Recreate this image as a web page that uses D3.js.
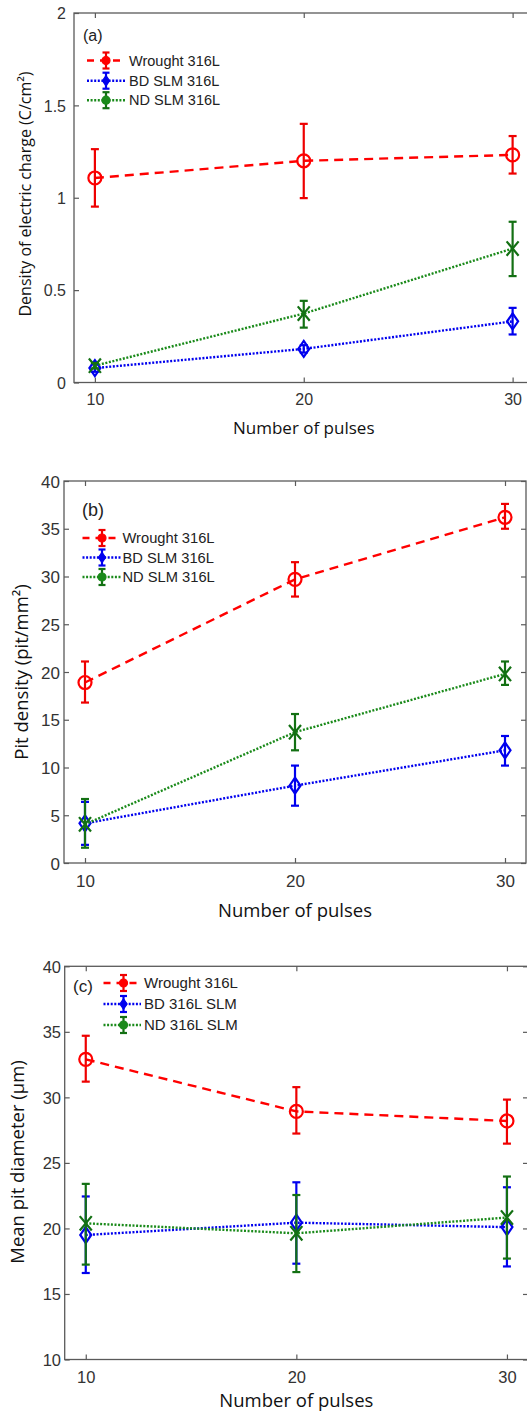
<!DOCTYPE html>
<html><head><meta charset="utf-8">
<script src="https://cdn.jsdelivr.net/npm/d3@7"></script>
<style>body{margin:0;background:#fff}</style>
</head><body><svg id="chart" width="527" height="1411" xmlns="http://www.w3.org/2000/svg"></svg>
<script>
// ---------- data ----------
const pulses = [10, 20, 30];
const xTickValues = [10, 20, 30];

// (a) density of electric charge (C/cm²)
const chargeWrought     = [1.107, 1.200, 1.232];
const chargeWroughtLow  = [0.952, 0.998, 1.131];
const chargeWroughtHigh = [1.263, 1.400, 1.334];
const chargeBD          = [0.078, 0.182, 0.331];
const chargeBDLow       = [0.058, 0.162, 0.260];
const chargeBDHigh      = [0.098, 0.202, 0.404];
const chargeND          = [0.091, 0.373, 0.725];
const chargeNDLow       = [0.076, 0.297, 0.576];
const chargeNDHigh      = [0.106, 0.442, 0.870];
const chargeTicks = [0, 0.5, 1, 1.5, 2];

// (b) pit density (pit/mm²)
const pitWrought     = [18.9, 29.7, 36.2];
const pitWroughtLow  = [16.8, 27.9, 35.0];
const pitWroughtHigh = [21.1, 31.5, 37.6];
const pitBD          = [4.15, 8.1, 11.8];
const pitBDLow       = [1.9, 6.0, 10.2];
const pitBDHigh      = [6.4, 10.2, 13.3];
const pitND          = [4.05, 13.7, 19.8];
const pitNDLow       = [1.6, 11.8, 18.65];
const pitNDHigh      = [6.7, 15.6, 21.1];
const pitTicks = [0, 5, 10, 15, 20, 25, 30, 35, 40];

// (c) mean pit diameter (µm)
const diamWrought     = [32.9, 28.93, 28.2];
const diamWroughtLow  = [31.2, 27.24, 26.47];
const diamWroughtHigh = [34.7, 30.78, 29.83];
const diamBD          = [19.5, 20.44, 20.1];
const diamBDLow       = [16.6, 17.31, 17.1];
const diamBDHigh      = [22.44, 23.52, 23.14];
const diamND          = [20.39, 19.63, 20.83];
const diamNDLow       = [17.24, 16.67, 17.7];
const diamNDHigh      = [23.4, 22.55, 23.96];
const diamTicks = [10, 15, 20, 25, 30, 35, 40];

const legendAB = ["Wrought 316L", "BD SLM 316L", "ND SLM 316L"];
const legendC  = ["Wrought 316L", "BD 316L SLM", "ND 316L SLM"];

// ---------- styles ----------
const styles = [
  {color: "#ff0000", dash: "9,6", width: 2.4, marker: "circle"},
  {color: "#0000ee", dash: "2,1.6", width: 2.4, marker: "diamond"},
  {color: "#1a8a1a", dash: "2,1.6", width: 2.4, marker: "x"}
];
const errColors = ["#ee0000", "#0000ee", "#137013"];

const panels = [
  {tag: "(a)", left: 74, right: 533.5, top: 13, bottom: 382.5, yDomain: [0, 2], yTicks: chargeTicks,
   series: [[chargeWrought, chargeWroughtLow, chargeWroughtHigh], [chargeBD, chargeBDLow, chargeBDHigh], [chargeND, chargeNDLow, chargeNDHigh]],
   legend: legendAB, ytitle: "Density of electric charge (C/cm²)", ytitleX: 31, ytitleY: 194, ytitleSize: 16,
   tickSize: 16, labelEnd: 66, xlabelY: 405, xtitleY: 434, xtitleSize: 17,
   tagX: 83, tagY: 41, tagSize: 16, legX0: 87, legX1: 126, legMX: 106, legTX: 129, legY: [60.5, 80.7, 100.2], legSize: 14.5},
  {tag: "(b)", left: 64, right: 526, top: 481, bottom: 863, yDomain: [0, 40], yTicks: pitTicks,
   series: [[pitWrought, pitWroughtLow, pitWroughtHigh], [pitBD, pitBDLow, pitBDHigh], [pitND, pitNDLow, pitNDHigh]],
   legend: legendAB, ytitle: "Pit density (pit/mm²)", ytitleX: 28, ytitleY: 672, ytitleSize: 18.5,
   tickSize: 17, labelEnd: 60, xlabelY: 886.5, xtitleY: 916.5, xtitleSize: 18.5,
   tagX: 82, tagY: 516, tagSize: 18, legX0: 82.5, legX1: 121, legMX: 102, legTX: 122.5, legY: [538, 557.5, 577], legSize: 14.7},
  {tag: "(c)", left: 64.7, right: 528, top: 966.3, bottom: 1359.5, yDomain: [10, 40], yTicks: diamTicks,
   series: [[diamWrought, diamWroughtLow, diamWroughtHigh], [diamBD, diamBDLow, diamBDHigh], [diamND, diamNDLow, diamNDHigh]],
   legend: legendC, ytitle: "Mean pit diameter (µm)", ytitleX: 24, ytitleY: 1162, ytitleSize: 18.5,
   tickSize: 16.5, labelEnd: 61, xlabelY: 1383, xtitleY: 1407, xtitleSize: 18.5,
   tagX: 73, tagY: 991.5, tagSize: 17, legX0: 103.5, legX1: 141, legMX: 123.5, legTX: 144, legY: [983, 1004, 1025], legSize: 15}
];

const svg = d3.select("#chart");
const tickFont = "'Liberation Sans', Arial, sans-serif";
const titleFont = "'Open Sans', 'Noto Sans', sans-serif";

function markerPath(type, s) {
  if (type === "diamond") return `M0,${-s*1.45} L${s},0 L0,${s*1.45} L${-s},0 Z`;
  if (type === "x") return `M${-s},${-s*1.2} L${s},${s*1.2} M${-s},${s*1.2} L${s},${-s*1.2}`;
  return null;
}

panels.forEach(p => {
  const x = d3.scaleLinear().domain([9, 31]).range([p.left, p.right]);
  const y = d3.scaleLinear().domain(p.yDomain).range([p.bottom, p.top]);
  const g = svg.append("g");

  // box
  g.append("rect").attr("x", p.left).attr("y", p.top)
    .attr("width", p.right - p.left).attr("height", p.bottom - p.top)
    .attr("fill", "none").attr("stroke", "#5a5a5a").attr("stroke-width", 1.3);

  const styleAxis = sel => {
    sel.select(".domain").remove();
    sel.selectAll(".tick line").attr("stroke", "#5a5a5a").attr("stroke-width", 1.2);
    sel.selectAll("text").attr("fill", "#333").attr("font-family", tickFont).attr("font-size", p.tickSize);
  };
  // bottom axis (ticks inward)
  g.append("g").attr("transform", `translate(0,${p.bottom})`)
    .call(d3.axisBottom(x).tickValues(xTickValues).tickSizeInner(-5).tickSizeOuter(0).tickPadding(0).tickFormat(d3.format("d")))
    .call(styleAxis)
    .call(s => s.selectAll("text").attr("y", p.xlabelY - p.bottom).attr("dy", 0));
  g.append("g").attr("transform", `translate(0,${p.top})`)
    .call(d3.axisTop(x).tickValues(xTickValues).tickSizeInner(-5).tickSizeOuter(0).tickFormat(""))
    .call(styleAxis);
  g.append("g").attr("transform", `translate(${p.left},0)`)
    .call(d3.axisLeft(y).tickValues(p.yTicks).tickSizeInner(-5).tickSizeOuter(0).tickFormat(d => String(d)))
    .call(styleAxis)
    .call(s => s.selectAll("text").attr("x", p.labelEnd - p.left).attr("dy", "0.36em"));
  g.append("g").attr("transform", `translate(${p.right},0)`)
    .call(d3.axisRight(y).tickValues(p.yTicks).tickSizeInner(-5).tickSizeOuter(0).tickFormat(""))
    .call(styleAxis);

  // axis titles
  g.append("text").attr("x", (x(10) + x(30)) / 2).attr("y", p.xtitleY)
    .attr("text-anchor", "middle").attr("font-family", titleFont).attr("font-size", p.xtitleSize)
    .attr("fill", "#111").text("Number of pulses");
  g.append("text").attr("transform", `translate(${p.ytitleX},${p.ytitleY}) rotate(-90)`)
    .attr("text-anchor", "middle").attr("font-family", titleFont).attr("font-size", p.ytitleSize)
    .attr("fill", "#111").text(p.ytitle);

  // series
  p.series.forEach((ser, si) => {
    const st = styles[si];
    const [vals, lo, hi] = ser;
    const pts = pulses.map((d, i) => ({x: d, v: vals[i], lo: lo[i], hi: hi[i]}));
    g.append("path").datum(pts)
      .attr("d", d3.line().x(d => x(d.x)).y(d => y(d.v)))
      .attr("fill", "none").attr("stroke", st.color).attr("stroke-width", st.width)
      .attr("stroke-dasharray", st.dash);
    const eb = g.append("g").attr("stroke", errColors[si]).attr("stroke-width", 2.2).attr("fill", "none");
    pts.forEach(d => {
      const cx = x(d.x);
      eb.append("line").attr("x1", cx).attr("x2", cx).attr("y1", y(d.lo)).attr("y2", y(d.hi));
      eb.append("line").attr("x1", cx - 4).attr("x2", cx + 4).attr("y1", y(d.lo)).attr("y2", y(d.lo));
      eb.append("line").attr("x1", cx - 4).attr("x2", cx + 4).attr("y1", y(d.hi)).attr("y2", y(d.hi));
      if (st.marker === "circle") {
        eb.append("circle").attr("cx", cx).attr("cy", y(d.v)).attr("r", 6.5).attr("stroke", st.color);
      } else {
        eb.append("path").attr("transform", `translate(${cx},${y(d.v)})`)
          .attr("d", markerPath(st.marker, st.marker === "diamond" ? 5.5 : 6)).attr("stroke", errColors[si]);
      }
    });
  });

  // tag & legend
  g.append("text").attr("x", p.tagX).attr("y", p.tagY).attr("font-family", tickFont)
    .attr("font-size", p.tagSize).attr("fill", "#222").text(p.tag);
  p.legend.forEach((lab, i) => {
    const st = styles[i];
    const ly = p.legY[i];
    g.append("line").attr("x1", p.legX0).attr("x2", p.legX1).attr("y1", ly).attr("y2", ly)
      .attr("stroke", st.color).attr("stroke-width", st.width).attr("stroke-dasharray", i === 0 ? "7,6" : "2,1.6");
    const lg = g.append("g").attr("stroke", errColors[i]).attr("stroke-width", 2.2);
    lg.append("line").attr("x1", p.legMX).attr("x2", p.legMX).attr("y1", ly - 8).attr("y2", ly + 8);
    lg.append("line").attr("x1", p.legMX - 3.5).attr("x2", p.legMX + 3.5).attr("y1", ly - 8).attr("y2", ly - 8);
    lg.append("line").attr("x1", p.legMX - 3.5).attr("x2", p.legMX + 3.5).attr("y1", ly + 8).attr("y2", ly + 8);
    if (i === 1) {
      lg.append("path").attr("transform", `translate(${p.legMX},${ly})`).attr("d", markerPath("diamond", 3.6))
        .attr("fill", st.color).attr("stroke", st.color).attr("stroke-width", 1.2);
    } else {
      lg.append("circle").attr("cx", p.legMX).attr("cy", ly).attr("r", 4).attr("fill", st.color)
        .attr("stroke", st.color).attr("stroke-width", 1.2);
    }
    g.append("text").attr("x", p.legTX).attr("y", ly).attr("dy", "0.35em")
      .attr("font-family", tickFont).attr("font-size", p.legSize).attr("fill", "#222").text(lab);
  });
});
</script>
</body></html>
